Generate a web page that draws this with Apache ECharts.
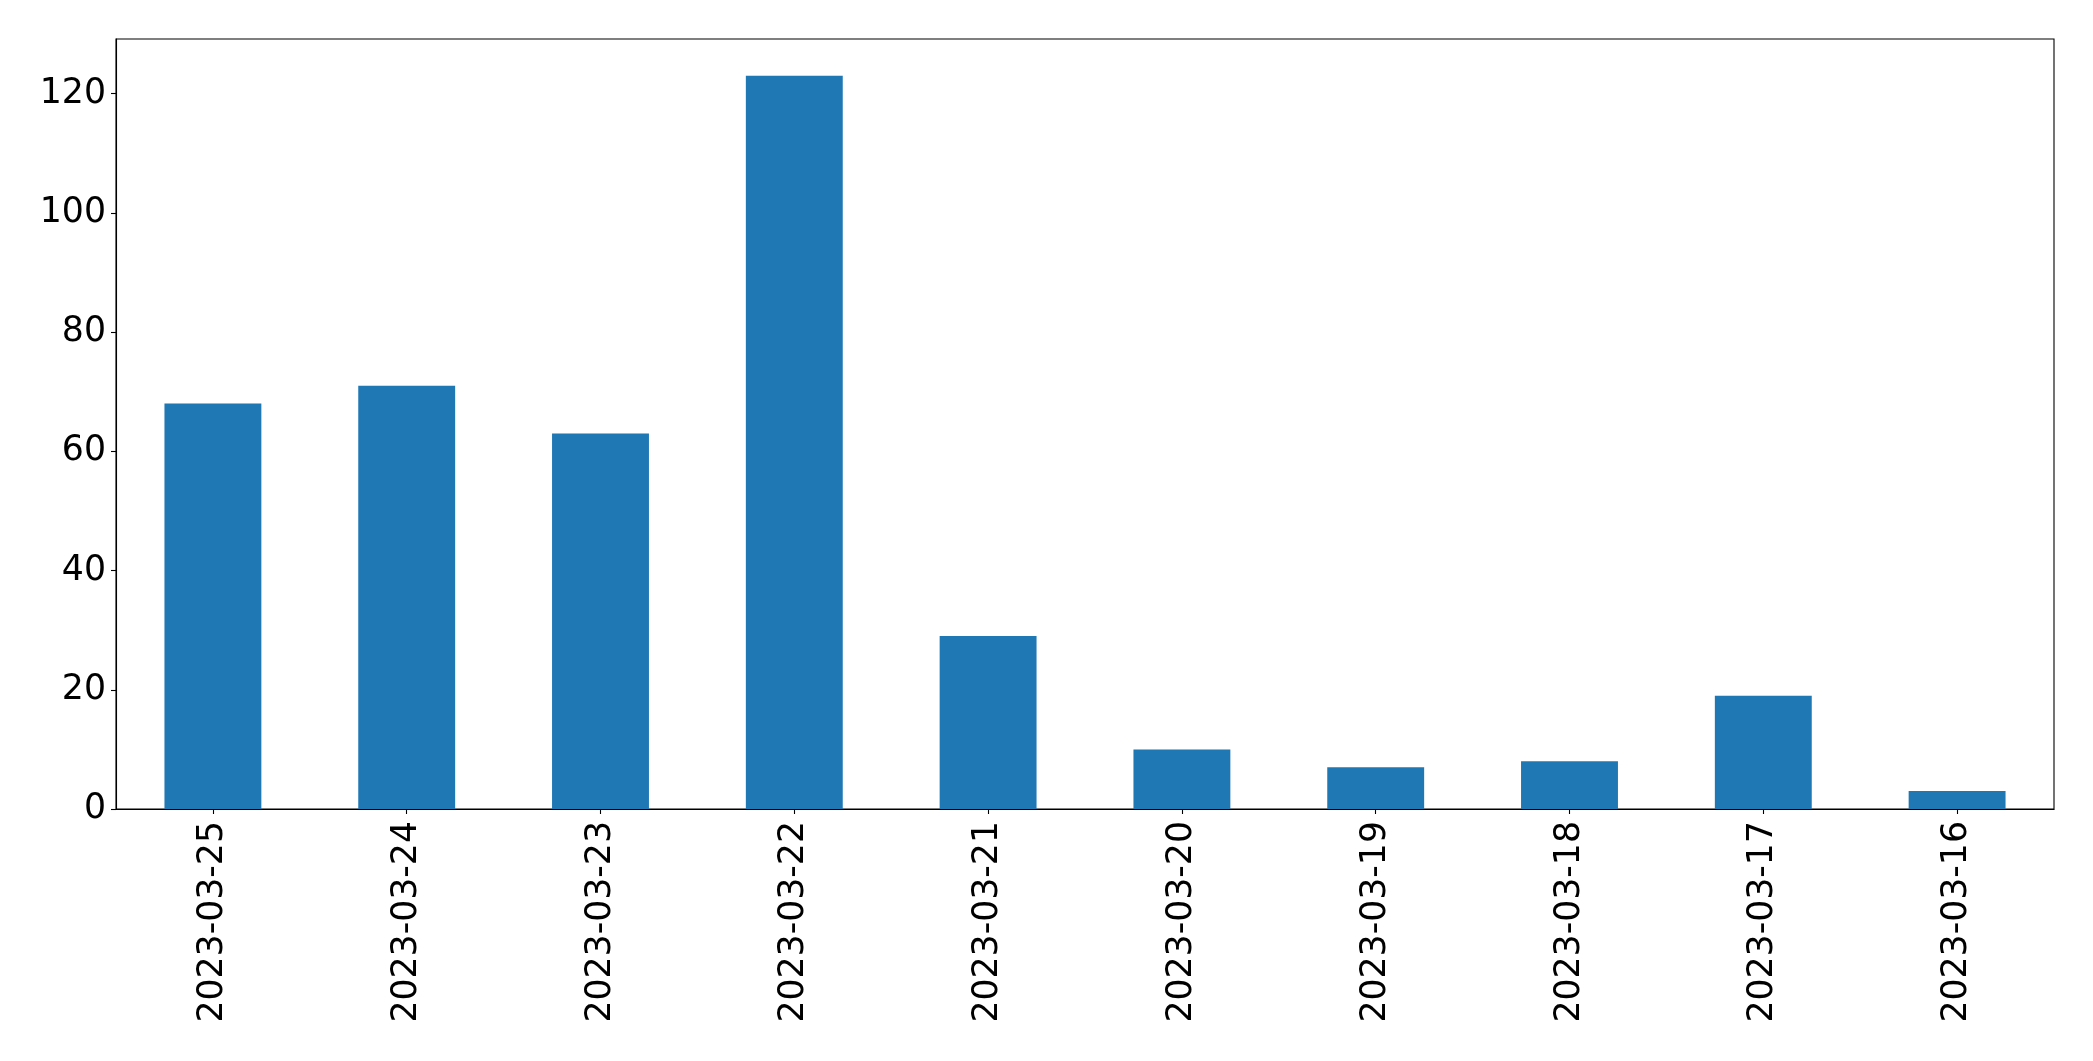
<!DOCTYPE html>
<html>
<head>
<meta charset="utf-8">
<script src="https://cdn.jsdelivr.net/npm/echarts@6/dist/echarts.min.js"></script>
<style>
html,body{margin:0;padding:0;background:#fff;}
#chart{width:2093px;height:1061px;}
</style>
</head>
<body>
<div id="chart"></div>
<script>
const categories = ['2023-03-25','2023-03-24','2023-03-23','2023-03-22','2023-03-21','2023-03-20','2023-03-19','2023-03-18','2023-03-17','2023-03-16'];
const values = [68, 71, 63, 123, 29, 10, 7, 8, 19, 3];
const yTicks = [0, 20, 40, 60, 80, 100, 120];

const chart = echarts.init(document.getElementById('chart'), null, {renderer: 'canvas'});
const font = 'DejaVu Sans';
chart.setOption({
  animation: false,
  backgroundColor: '#ffffff',
  grid: {
    left: 116, top: 39, width: 1938, height: 770,
    show: true, borderColor: '#000000', borderWidth: 1.1, backgroundColor: 'transparent'
  },
  xAxis: {
    type: 'category',
    data: categories,
    boundaryGap: true,
    axisLine: {show: true, lineStyle: {color: '#000', width: 1.1}},
    axisTick: {show: true, alignWithLabel: true, length: 5, lineStyle: {color: '#000', width: 1.1}},
    axisLabel: {rotate: 90, margin: 12, color: '#000', fontFamily: font, fontSize: 34.7, interval: 0},
    splitLine: {show: false}
  },
  yAxis: {
    type: 'value',
    min: 0,
    max: 129.15,
    interval: 20,
    axisLine: {show: true, lineStyle: {color: '#000', width: 1.1}},
    axisTick: {show: true, length: 5, lineStyle: {color: '#000', width: 1.1}, customValues: yTicks},
    axisLabel: {margin: 10, color: '#000', fontFamily: font, fontSize: 34.7, customValues: yTicks},
    splitLine: {show: false}
  },
  series: [{
    type: 'bar',
    data: values,
    barWidth: '50%',
    itemStyle: {color: '#1f77b4'}
  }]
});
</script>
</body>
</html>
